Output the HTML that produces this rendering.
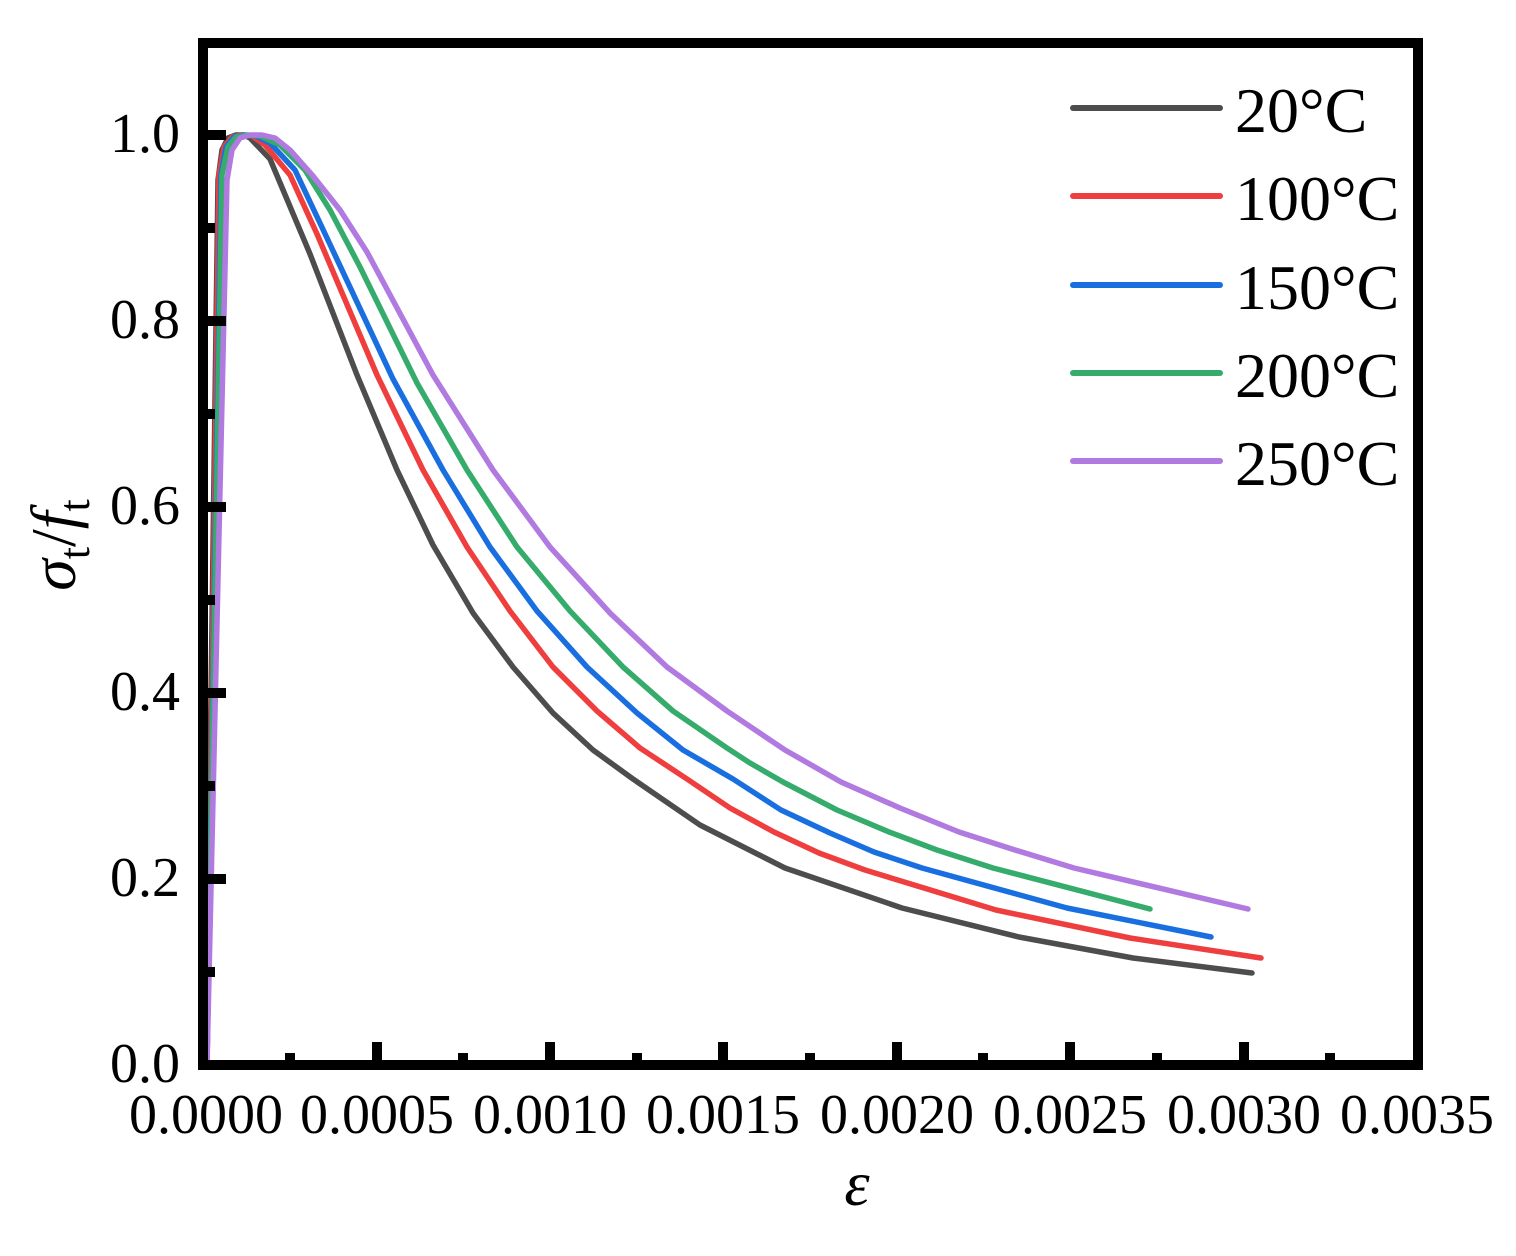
<!DOCTYPE html>
<html><head><meta charset="utf-8"><style>
html,body{margin:0;padding:0;background:#fff;}
svg{display:block;}
</style></head><body>
<svg width="1516" height="1256" viewBox="0 0 1516 1256" xmlns="http://www.w3.org/2000/svg">
<g fill="none" stroke-width="5.5" stroke-linejoin="round" stroke-linecap="round">
<polyline stroke="#4d4d4d" points="206,1065 218,180 222,150 228,138 236,135 244,135 250,138 270,159 310,254 357,375 397,470 433,545 473,613 513,667 553,713 593,750 633,779 700,825 785,868 902,908 1019,937 1133,958 1252,973"/>
<polyline stroke="#ef3e3e" points="207,1065 219,175 224,147 232,137 242,135 252,136 265,145 290,175 317,234 377,375 423,470 467,547 510,611 553,667 597,711 640,748 687,779 730,808 774,832 819,853 865,870 996,910 1130,938 1261,958"/>
<polyline stroke="#1a6fe0" points="207,1065 221,175 226,147 234,137 245,135 256,136 270,143 295,170 327,238 393,379 443,470 490,547 537,611 587,667 637,713 683,750 733,779 781,810 830,833 874,852 922,868 1067,908 1211,937"/>
<polyline stroke="#36ac6c" points="207,1065 222,175 228,147 236,137 248,135 260,136 280,145 305,170 330,210 360,267 417,383 467,470 517,547 570,611 623,667 673,711 727,748 750,763 783,782 837,810 889,832 937,850 993,868 1150,909"/>
<polyline stroke="#b07ae0" points="207,1065 227,180 232,150 240,138 250,135 262,135 275,138 290,150 313,176 340,210 367,252 433,375 493,470 550,547 610,613 667,667 727,711 785,750 841,782 900,808 959,832 1015,850 1074,868 1248,909"/>
</g>
<g stroke="#000" stroke-width="10" fill="none">
<rect x="203" y="43" width="1215" height="1022"/>
</g>
<g stroke="#000" stroke-width="10">
<line x1="377" y1="1065" x2="377" y2="1042"/>
<line x1="550" y1="1065" x2="550" y2="1042"/>
<line x1="723" y1="1065" x2="723" y2="1042"/>
<line x1="897" y1="1065" x2="897" y2="1042"/>
<line x1="1070" y1="1065" x2="1070" y2="1042"/>
<line x1="1244" y1="1065" x2="1244" y2="1042"/>
<line x1="290" y1="1065" x2="290" y2="1053"/>
<line x1="463" y1="1065" x2="463" y2="1053"/>
<line x1="637" y1="1065" x2="637" y2="1053"/>
<line x1="810" y1="1065" x2="810" y2="1053"/>
<line x1="983" y1="1065" x2="983" y2="1053"/>
<line x1="1157" y1="1065" x2="1157" y2="1053"/>
<line x1="1330" y1="1065" x2="1330" y2="1053"/>
<line x1="203" y1="879" x2="226" y2="879"/>
<line x1="203" y1="693" x2="226" y2="693"/>
<line x1="203" y1="507" x2="226" y2="507"/>
<line x1="203" y1="321" x2="226" y2="321"/>
<line x1="203" y1="135" x2="226" y2="135"/>
<line x1="203" y1="972" x2="215" y2="972"/>
<line x1="203" y1="786" x2="215" y2="786"/>
<line x1="203" y1="600" x2="215" y2="600"/>
<line x1="203" y1="414" x2="215" y2="414"/>
<line x1="203" y1="228" x2="215" y2="228"/>
</g>
<g font-family="Liberation Serif, serif" font-size="56" fill="#000" text-anchor="end">
<text x="180" y="1082">0.0</text>
<text x="180" y="896">0.2</text>
<text x="180" y="710">0.4</text>
<text x="180" y="524">0.6</text>
<text x="180" y="338">0.8</text>
<text x="180" y="152">1.0</text>
</g>
<g font-family="Liberation Serif, serif" font-size="56" fill="#000" text-anchor="middle">
<text x="206" y="1133">0.0000</text>
<text x="377" y="1133">0.0005</text>
<text x="550" y="1133">0.0010</text>
<text x="723" y="1133">0.0015</text>
<text x="897" y="1133">0.0020</text>
<text x="1070" y="1133">0.0025</text>
<text x="1244" y="1133">0.0030</text>
<text x="1417" y="1133">0.0035</text>
</g>
<text x="857" y="1205" font-family="Liberation Serif, serif" font-size="64" font-style="italic" text-anchor="middle">ε</text>
<text transform="translate(75,545) rotate(-90)" font-family="Liberation Serif, serif" font-size="64" text-anchor="middle"><tspan font-style="italic">σ</tspan><tspan font-size="44" dy="14">t</tspan><tspan dy="-14">/</tspan><tspan font-style="italic">f</tspan><tspan font-size="44" dy="14">t</tspan></text>
<g stroke-width="6" stroke-linecap="round">
<line x1="1073" y1="108" x2="1220" y2="108" stroke="#4d4d4d"/>
<line x1="1073" y1="196" x2="1220" y2="196" stroke="#ef3e3e"/>
<line x1="1073" y1="285" x2="1220" y2="285" stroke="#1a6fe0"/>
<line x1="1073" y1="373" x2="1220" y2="373" stroke="#36ac6c"/>
<line x1="1073" y1="461" x2="1220" y2="461" stroke="#b07ae0"/>
</g>
<g font-family="Liberation Serif, serif" font-size="64" fill="#000">
<text x="1235" y="132">20°C</text>
<text x="1235" y="220">100°C</text>
<text x="1235" y="309">150°C</text>
<text x="1235" y="397">200°C</text>
<text x="1235" y="485">250°C</text>
</g>
</svg>
</body></html>
